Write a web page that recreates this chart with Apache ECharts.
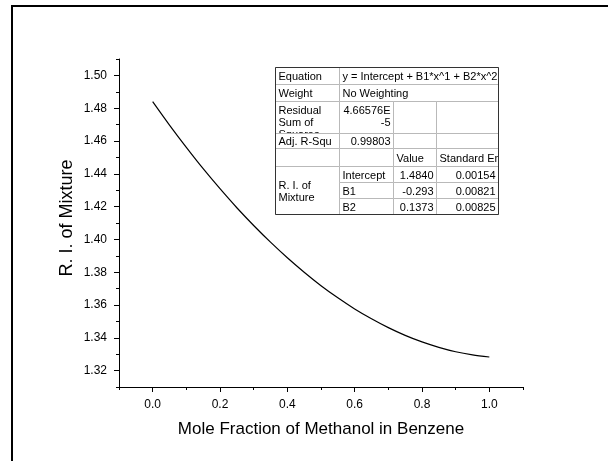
<!DOCTYPE html>
<html>
<head>
<meta charset="utf-8">
<script src="https://cdn.jsdelivr.net/npm/echarts@6/dist/echarts.min.js"></script>
<style>
  html, body { margin: 0; padding: 0; background: #fff; }
  #chart { width: 608px; height: 461px; }
</style>
</head>
<body>
<div id="chart"></div>
<script>
// values
const moleFraction = [0, 0.05, 0.1, 0.15, 0.2, 0.25, 0.3, 0.35, 0.4, 0.45, 0.5,
  0.55, 0.6, 0.65, 0.7, 0.75, 0.8, 0.85, 0.9, 0.95, 1.0];
const riMixture = [1.4840, 1.4697, 1.4561, 1.4431, 1.4309, 1.4193, 1.4085, 1.3983, 1.3888, 1.3800, 1.3718,
  1.3644, 1.3576, 1.3516, 1.3462, 1.3415, 1.3375, 1.3342, 1.3315, 1.3296, 1.3283];

const xTickLabels = ["0.0", "0.2", "0.4", "0.6", "0.8", "1.0"];
const xMinorTicks = [-0.1, 0.1, 0.3, 0.5, 0.7, 0.9, 1.1];
const yTickLabels = ["1.32", "1.34", "1.36", "1.38", "1.40", "1.42", "1.44", "1.46", "1.48", "1.50"];
const yMinorTicks = [1.31, 1.33, 1.35, 1.37, 1.39, 1.41, 1.43, 1.45, 1.47, 1.49, 1.51];

// fit report table
const fitEquation = "y = Intercept + B1*x^1 + B2*x^2";
const fitWeight = "No Weighting";
const fitRss = "4.66576E\n-5";
const fitAdjR2 = "0.99803";
const paramNames = ["Intercept", "B1", "B2"];
const paramValues = ["1.4840", "-0.293", "0.1373"];
const paramErrors = ["0.00154", "0.00821", "0.00825"];

const font = "'Liberation Sans', Arial, sans-serif";
const chart = echarts.init(document.getElementById("chart"));

// table layout
const tCols = [275, 339, 393, 436, 498];
const tRows = [67, 84, 101, 133, 148, 166, 182, 198, 214];
const els = [];
let order = 0;

function cell(c0, c1, r0, r1, text, align, top) {
  const x = tCols[c0] + 0.5, y = tRows[r0] + 0.5;
  const w = tCols[c1] - tCols[c0], h = tRows[r1] - tRows[r0];
  els.push({
    type: "rect", z: 10, z2: order++,
    shape: { x: x, y: y, width: w, height: h },
    style: { fill: "#fff", stroke: "#b9b9b9", lineWidth: 1 }
  });
  if (!text) return;
  els.push({
    type: "text", z: 10, z2: order++,
    style: {
      text: text,
      x: align === "right" ? x + w - 3 : x + 3,
      y: top ? y + 3 : y + h / 2 + 1,
      align: align || "left",
      verticalAlign: top ? "top" : "middle",
      font: "11px " + font,
      lineHeight: 12,
      fill: "#000"
    }
  });
}

cell(0, 1, 0, 1, "Equation");
cell(1, 4, 0, 1, fitEquation);
cell(0, 1, 1, 2, "Weight");
cell(1, 4, 1, 2, fitWeight);
cell(0, 1, 2, 3, "Residual\nSum of\nSquares", "left", true);
cell(1, 2, 2, 3, fitRss, "right", true);
cell(2, 3, 2, 3, "");
cell(3, 4, 2, 3, "");
cell(0, 1, 3, 4, "Adj. R-Squ");
cell(1, 2, 3, 4, fitAdjR2, "right");
cell(2, 3, 3, 4, "");
cell(3, 4, 3, 4, "");
cell(0, 1, 4, 5, "");
cell(1, 2, 4, 5, "");
cell(2, 3, 4, 5, "Value");
cell(3, 4, 4, 5, "Standard Er");
cell(0, 1, 5, 8, "R. I. of\nMixture");
paramNames.forEach(function (name, i) {
  cell(1, 2, 5 + i, 6 + i, name);
  cell(2, 3, 5 + i, 6 + i, paramValues[i], "right");
  cell(3, 4, 5 + i, 6 + i, paramErrors[i], "right");
});
els.push({
  type: "rect", z: 10, z2: order++,
  shape: { x: tCols[0] + 0.5, y: tRows[0] + 0.5, width: tCols[4] - tCols[0], height: tRows[8] - tRows[0] },
  style: { fill: null, stroke: "#333", lineWidth: 1 }
});
// outer frame of the page
els.push({
  type: "rect", z: 0,
  shape: { x: 12, y: 6, width: 700, height: 600 },
  style: { fill: null, stroke: "#000", lineWidth: 2 }
});

const axisBase = {
  type: "value",
  splitLine: { show: false },
  axisLine: { show: true, onZero: false, lineStyle: { color: "#000", width: 1 } }
};

chart.setOption({
  animation: false,
  grid: { left: 119, right: 85, top: 59, bottom: 74 },
  xAxis: [
    Object.assign({}, axisBase, {
      min: -0.1, max: 1.1,
      position: "bottom",
      name: "Mole Fraction of Methanol in Benzene",
      nameLocation: "middle",
      nameGap: 34,
      nameTextStyle: { fontFamily: font, fontSize: 17, color: "#000" },
      axisTick: { show: true, length: 5, customValues: xTickLabels.map(Number), lineStyle: { color: "#000" } },
      axisLabel: {
        customValues: xTickLabels.map(Number), margin: 12,
        fontFamily: font, fontSize: 12, color: "#000",
        formatter: function (v) { return v.toFixed(1); }
      }
    }),
    Object.assign({}, axisBase, {
      min: -0.1, max: 1.1,
      position: "bottom",
      axisLine: { show: false, onZero: false },
      axisTick: { show: true, length: 3, customValues: xMinorTicks, lineStyle: { color: "#000" } },
      axisLabel: { show: false }
    })
  ],
  yAxis: [
    Object.assign({}, axisBase, {
      min: 1.31, max: 1.51,
      position: "left",
      name: "R. I. of Mixture",
      nameLocation: "middle",
      nameGap: 43,
      nameMoveOverlap: false,
      nameTextStyle: { fontFamily: font, fontSize: 18, color: "#000", padding: [0, 0, 0, 10] },
      axisTick: { show: true, length: 5, customValues: yTickLabels.map(Number), lineStyle: { color: "#000" } },
      axisLabel: {
        customValues: yTickLabels.map(Number), margin: 12,
        fontFamily: font, fontSize: 12, color: "#000",
        formatter: function (v) { return v.toFixed(2); }
      }
    }),
    Object.assign({}, axisBase, {
      min: 1.31, max: 1.51,
      position: "left",
      axisLine: { show: false, onZero: false },
      axisTick: { show: true, length: 3, customValues: yMinorTicks, lineStyle: { color: "#000" } },
      axisLabel: { show: false }
    })
  ],
  series: [
    {
      type: "line",
      xAxisIndex: 0,
      yAxisIndex: 0,
      data: moleFraction.map(function (x, i) { return [x, riMixture[i]]; }),
      smooth: 0.3,
      showSymbol: false,
      lineStyle: { color: "#000", width: 1.2 }
    }
  ],
  graphic: { elements: els }
});
</script>
</body>
</html>
